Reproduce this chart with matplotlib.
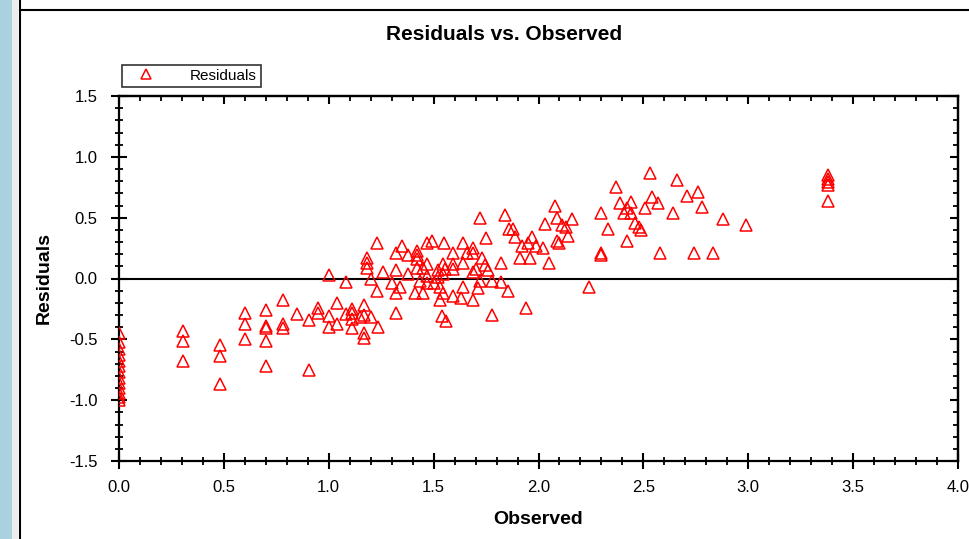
import numpy as np
import matplotlib
matplotlib.use("Agg")
import matplotlib.pyplot as plt
from matplotlib.patches import Rectangle
from matplotlib.lines import Line2D
from matplotlib.ticker import MultipleLocator

plt.rcParams['font.family'] = ['Liberation Sans', 'DejaVu Sans']

obs_zero = [0.0] * 13
res_zero = [-0.45, -0.52, -0.58, -0.63, -0.68, -0.72, -0.77, -0.82, -0.86, -0.90, -0.94, -0.97, -1.0]

observed = [
    0.305, 0.305, 0.305, 0.48, 0.48, 0.48, 0.60, 0.60, 0.60,
    0.70, 0.70, 0.70, 0.70, 0.70, 0.78, 0.78, 0.78, 0.85, 0.905, 0.905,
    0.95, 0.95, 1.0, 1.0, 1.0, 1.04, 1.04, 1.08, 1.11, 1.11, 1.11, 1.11, 1.08,
    1.17, 1.17, 1.17, 1.17, 1.15, 1.20, 1.18, 1.18, 1.18, 1.20,
    1.23, 1.23, 1.235, 1.26, 1.30, 1.32, 1.32, 1.32, 1.32, 1.34, 1.35,
    1.38, 1.38, 1.41, 1.42, 1.42, 1.42, 1.42, 1.435, 1.45, 1.45,
    1.47, 1.47, 1.47, 1.47, 1.49, 1.50, 1.52, 1.52, 1.53, 1.53,
    1.545, 1.545, 1.545, 1.54, 1.56, 1.55, 1.555, 1.59, 1.59, 1.59, 1.59,
    1.63, 1.64, 1.64, 1.64, 1.66, 1.69, 1.69, 1.69, 1.70, 1.69, 1.71,
    1.72, 1.72, 1.73, 1.745, 1.75, 1.76, 1.78, 1.78, 1.82, 1.82, 1.84,
    1.855, 1.86, 1.88, 1.89, 1.91, 1.92, 1.94, 1.95, 1.96, 1.97, 1.99,
    2.02, 2.03, 2.05, 2.08, 2.09, 2.09, 2.10, 2.11, 2.13, 2.14, 2.16,
    2.24, 2.30, 2.30, 2.30, 2.33, 2.37, 2.39, 2.42, 2.42, 2.41, 2.44, 2.44,
    2.46, 2.48, 2.49, 2.51, 2.53, 2.54, 2.57, 2.58, 2.64, 2.66, 2.71,
    2.74, 2.76, 2.78, 2.83, 2.88, 2.99,
    3.38, 3.38, 3.38, 3.38, 3.38,
]
residuals = [
    -0.43, -0.51, -0.68, -0.55, -0.64, -0.87, -0.28, -0.37, -0.50,
    -0.26, -0.39, -0.41, -0.51, -0.72, -0.18, -0.37, -0.41, -0.29, -0.34, -0.75,
    -0.24, -0.28, -0.31, -0.40, 0.025, -0.20, -0.37, -0.03, -0.25, -0.28, -0.33, -0.41, -0.29,
    -0.22, -0.30, -0.45, -0.49, -0.32, -0.32, 0.17, 0.13, 0.09, 0.0,
    0.29, -0.10, -0.40, 0.05, -0.04, 0.21, 0.07, -0.12, -0.28, -0.07, 0.27,
    0.19, 0.04, -0.12, 0.23, 0.19, 0.16, 0.09, -0.02, -0.12, 0.09,
    0.29, 0.12, -0.04, 0.02, 0.31, -0.04, 0.01, 0.07, -0.07, -0.18,
    0.04, -0.12, 0.12, -0.31, -0.35, 0.29, 0.08, 0.21, 0.12, 0.08, -0.14,
    -0.16, 0.29, 0.13, -0.07, 0.21, 0.25, 0.21, 0.05, 0.08, -0.18, -0.08,
    0.50, -0.02, 0.17, 0.11, 0.33, 0.07, -0.02, -0.30, 0.13, -0.03, 0.52,
    -0.10, 0.41, 0.41, 0.34, 0.17, 0.27, -0.24, 0.29, 0.17, 0.34, 0.27,
    0.25, 0.45, 0.13, 0.60, 0.50, 0.31, 0.29, 0.44, 0.42, 0.35, 0.49,
    -0.07, 0.19, 0.21, 0.54, 0.41, 0.75, 0.62, 0.31, 0.58, 0.54, 0.54, 0.63,
    0.46, 0.42, 0.40, 0.58, 0.87, 0.67, 0.62, 0.21, 0.54, 0.81, 0.68,
    0.21, 0.71, 0.59, 0.21, 0.49, 0.44,
    0.85, 0.82, 0.79, 0.77, 0.64,
]

W, H = 969, 539
fig = plt.figure(figsize=(W / 100, H / 100), dpi=100)
fig.patch.set_facecolor('white')

# window frame bits on the left / top of the screenshot
fig.add_artist(Rectangle((0, 0), 12 / W, 1, transform=fig.transFigure,
                         facecolor='#a9d2de', edgecolor='none'))
fig.add_artist(Rectangle((12 / W, 0), 6 / W, 1, transform=fig.transFigure,
                         facecolor='#ececec', edgecolor='none'))
fig.add_artist(Line2D([20 / W, 20 / W], [0, 1], transform=fig.transFigure,
                      color='black', lw=1.5))
fig.add_artist(Line2D([20 / W, 1], [1 - 10 / H, 1 - 10 / H], transform=fig.transFigure,
                      color='black', lw=1.5))

ax = fig.add_axes([119 / W, 1 - 461 / H, (958 - 119) / W, (461 - 96) / H])
ax.set_xlim(0, 4.0)
ax.set_ylim(-1.5, 1.5)

ax.axhline(0, color='black', lw=1.5, zorder=1)

mk = dict(marker='^', ms=8, mfc='none', mec='red', mew=1.1, ls='none', clip_on=True)
ax.plot(obs_zero, res_zero, **mk, zorder=3)
line, = ax.plot(observed, residuals, **mk, zorder=3)

for s in ax.spines.values():
    s.set_linewidth(1.6)

ax.xaxis.set_major_locator(MultipleLocator(0.5))
ax.xaxis.set_minor_locator(MultipleLocator(0.1))
ax.yaxis.set_major_locator(MultipleLocator(0.5))
ax.yaxis.set_minor_locator(MultipleLocator(0.1))
ax.xaxis.set_major_formatter(lambda v, p: f"{v:.1f}")
ax.yaxis.set_major_formatter(lambda v, p: f"{v:.1f}")
ax.tick_params(which='major', direction='inout', length=11, width=1.5,
               labelsize=12, colors='black')
ax.tick_params(axis='y', which='major', pad=10)
ax.tick_params(axis='x', which='major', pad=8)
ax.tick_params(which='minor', direction='inout', length=6, width=1.3)

topx = ax.secondary_xaxis('top')
topx.xaxis.set_major_locator(MultipleLocator(0.5))
topx.xaxis.set_minor_locator(MultipleLocator(0.1))
topx.tick_params(which='major', direction='in', length=6, width=1.5, labeltop=False)
topx.tick_params(which='minor', direction='in', length=3.5, width=1.3)
topx.spines['top'].set_linewidth(1.6)

righty = ax.secondary_yaxis('right')
righty.yaxis.set_major_locator(MultipleLocator(0.5))
righty.yaxis.set_minor_locator(MultipleLocator(0.1))
righty.tick_params(which='major', direction='in', length=6, width=1.5, labelright=False)
righty.tick_params(which='minor', direction='in', length=3.5, width=1.3)
righty.spines['right'].set_linewidth(1.6)

ax.set_xlabel("Observed", fontsize=14, fontweight='bold', labelpad=12)
ax.set_ylabel("Residuals", fontsize=14, fontweight='bold', labelpad=12)
fig.text(504 / W, 1 - 35 / H, "Residuals vs. Observed", fontsize=15,
         fontweight='bold', ha='center', va='center')

leg = fig.legend([line], ["Residuals"], loc='upper left',
                 bbox_to_anchor=(122 / W, 1 - 65 / H), frameon=True,
                 fancybox=False, fontsize=11, borderpad=0.25, handlelength=2.6,
                 handletextpad=1.6, borderaxespad=0)
leg.get_frame().set_edgecolor('black')
leg.get_frame().set_linewidth(1.2)
leg.legend_handles[0].set_markersize(7)

fig.savefig("out.png", dpi=100)
